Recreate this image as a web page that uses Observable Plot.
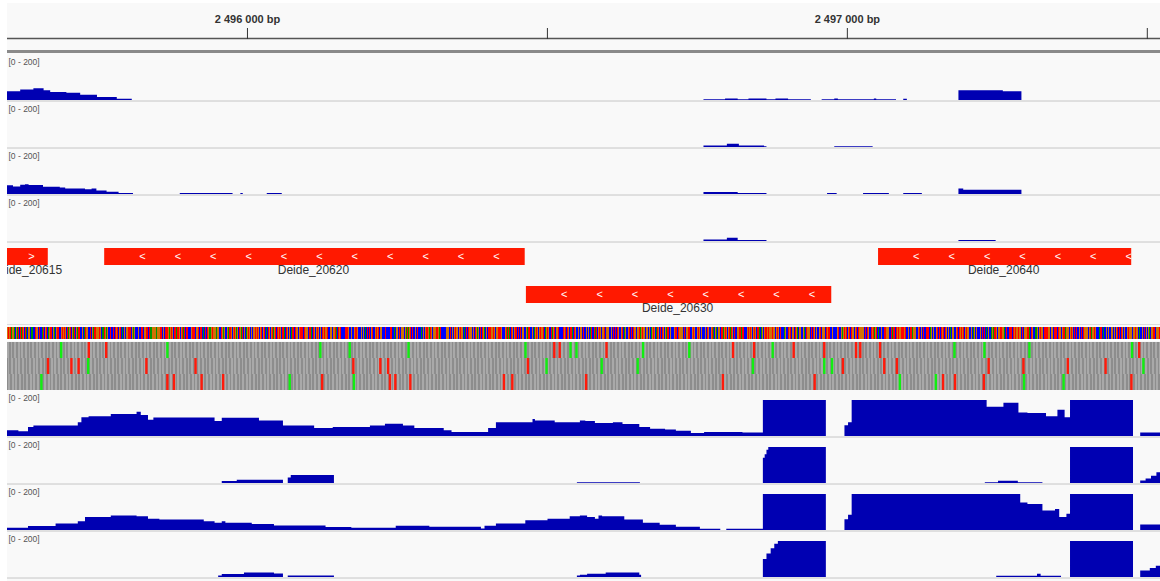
<!DOCTYPE html>
<html><head><meta charset="utf-8">
<script src="https://cdn.jsdelivr.net/npm/d3@7"></script>
<script src="https://cdn.jsdelivr.net/npm/@observablehq/plot@0.6"></script>
<style>
html,body{margin:0;padding:0;background:#fff;width:1160px;height:581px;overflow:hidden;}
#panel{position:absolute;left:7px;top:0;width:1153px;height:581px;background:#f9f9f9;}
.trk{position:absolute;left:0;width:1153px;}
.trk svg{display:block;}
.strip{position:absolute;left:0;width:1153px;}
</style></head><body><div id="panel"></div>
<script>
// ---------------- data ----------------
const X0 = 2495600, X1 = 2497522;          // visible locus (bp)
const rulerTicks = [2496000, 2496500, 2497000, 2497500];
const rulerLabels = [2496000, 2497000];
const dataRange = [0, 200];

// coverage tracks: [start bp, value] steps
const cov1 = [[2495600,49],[2495622,58],[2495644,65],[2495661,54],[2495672,45],[2495699,40],[2495722,29],[2495750,16],[2495783,7],[2495808,0],
 [2496761,4],[2496797,9],[2496818,4],[2496836,9],[2496866,4],[2496881,9],[2496902,4],[2496940,0],[2496958,4],[2496979,9],[2496985,4],[2497045,9],[2497049,4],[2497082,0],[2497094,7],[2497100,0],[2497186,54],[2497260,49],[2497291,0],[2497522,0]];
const cov2 = [[2495600,0],[2496761,9],[2496800,18],[2496820,9],[2496862,4],[2496866,0],[2496979,4],[2497043,0],[2497522,0]];
const cov3 = [[2495600,49],[2495610,41],[2495622,52],[2495630,54],[2495636,50],[2495660,40],[2495688,36],[2495697,31],[2495730,27],[2495741,31],[2495749,20],[2495766,13],[2495786,5],[2495810,0],[2495888,5],[2495976,0],[2495989,5],[2495993,0],[2496033,5],[2496058,0],
 [2496761,11],[2496818,5],[2496866,0],[2496967,5],[2496983,0],[2497027,5],[2497070,0],[2497094,5],[2497125,0],[2497186,31],[2497194,23],[2497291,0],[2497522,0]];
const cov4 = [[2495600,0],[2496761,9],[2496800,18],[2496818,5],[2496866,0],[2497186,5],[2497248,0],[2497522,0]];
const cov5 = [[2495600,32],[2495619,27],[2495635,50],[2495644,59],[2495718,77],[2495724,104],[2495736,110],[2495773,122],[2495816,135],[2495823,117],[2495835,90],[2495844,103],[2495946,83],[2495958,101],[2496020,86],[2496060,59],[2496112,45],[2496143,50],[2496205,59],[2496230,68],[2496260,59],[2496279,45],[2496328,32],[2496341,22],[2496402,45],[2496415,77],[2496476,95],[2496480,86],[2496513,77],[2496555,86],[2496564,83],[2496580,72],[2496610,77],[2496626,67],[2496654,50],[2496672,40],[2496697,36],[2496715,29],[2496740,16],[2496762,22],[2496826,20],[2496860,200],[2496965,0],[2496996,60],[2497002,77],[2497008,200],[2497233,162],[2497261,185],[2497286,131],[2497301,128],[2497332,110],[2497351,146],[2497363,104],[2497372,200],[2497477,0],[2497489,20],[2497522,20]];
const cov6 = [[2495600,0],[2495958,11],[2495983,18],[2496060,0],[2496068,30],[2496073,45],[2496145,0],[2496550,4],[2496655,0],[2496860,140],[2496863,160],[2496866,185],[2496869,200],[2496965,0],[2497230,4],[2497252,13],[2497285,4],[2497326,0],[2497372,200],[2497477,0],[2497489,14],[2497498,25],[2497507,40],[2497516,60],[2497522,70]];
const cov7 = [[2495600,13],[2495635,22],[2495681,36],[2495718,49],[2495730,72],[2495773,81],[2495816,76],[2495835,63],[2495854,59],[2495928,49],[2495946,40],[2495958,49],[2495964,40],[2496008,34],[2496045,25],[2496131,16],[2496174,13],[2496248,23],[2496304,18],[2496390,9],[2496396,23],[2496415,36],[2496464,54],[2496501,63],[2496538,76],[2496555,81],[2496567,72],[2496580,63],[2496586,81],[2496592,76],[2496629,58],[2496660,40],[2496688,29],[2496715,18],[2496755,7],[2496789,0],[2496799,7],[2496860,200],[2496965,0],[2496996,60],[2497002,85],[2497008,200],[2497289,153],[2497301,144],[2497326,108],[2497347,117],[2497354,72],[2497366,90],[2497372,200],[2497477,0],[2497489,31],[2497522,31]];
const cov8 = [[2495600,0],[2495952,8],[2495958,16],[2495995,25],[2496045,20],[2496060,0],[2496068,9],[2496145,0],[2496550,8],[2496555,13],[2496567,18],[2496598,25],[2496654,12],[2496657,0],[2496860,100],[2496866,130],[2496873,160],[2496879,185],[2496885,200],[2496965,0],[2497249,7],[2497317,18],[2497323,7],[2497357,0],[2497372,200],[2497477,0],[2497489,36],[2497505,50],[2497515,62],[2497522,67]];

// gene annotations
const geneNames   = ["Deide_20615","Deide_20620","Deide_20630","Deide_20640"];
const geneStarts  = [2495577, 2495762, 2496465, 2497052];
const geneEnds    = [2495668, 2496463, 2496974, 2497474];
const geneStrands = ["+","-","-","-"];
const geneRows    = [1, 1, 2, 1];

// reference sequence (estimated)
const sequence = [
"GCTCGTTACGGCATCGAAGTCCTGATCGGCTTAACGCGTCAGATCCGTTGGACTTCGCAATGCCGTTCGAGATCTCGGTACAGCTTGCACGATCGTAG",
"CCTGACGTTCGGATTGCGCAGTTCCTCGACGATGGTGCGCTTCAGCATGTCGGCGTTGACGAACTCGATGACCTTGCCCTGCTCGGTCAGTTCGATCG",
"TCAGGGTCTTGCCGATGTCCTCGGCGCGTTCCAGGTTCTCCTGAATGCGGCGCAGCGTGTCTTCGGCCTTGTCGAGGTTGGCCTTGAGTTCGCCGATC",
"ATGCCTTCCACCAGGTTCTGCGCGGTCTTGTCCACCTGCTTGGACAGTTCGGCGAAGCGGCCCTTGACGTCCTGGATCTCGCGGTTGAAGGCGTCGAA",
"TTCGGCGAGCTTGCGGTCGAGCTGGTCGCGGGTCTGCTCGAACTTGTCGTTGAGCTGCTGGATGTCCTTGACCTTGGCGTCGATTTCCTCGCGCAGCT",
"TGTTCTCGAGGTCCTTGATCTTGCCGTTGGCGGTCTCGATGCGCTCGCGGGCCAGGTTCACTTCGTTCTCCACCTTCTGGCGCAGCTCGGTGTCGCGC",
"TCGTCGGCAAACTGCTTCAGCTCGCGGTTGATCTGCGCGCTCTTCTCCACGTTGCTCATCAGGTCTTCGGCGGCCTGATTCAGCTTCTGCACGGCGTC",
"GCGCACCTGCTGGTTGGCATCGGCGAGGGTCTTGATTTCCTCGCCGGTGGTCTTCAGGCGTTCGGTCAGTTGGGCGATCTCCTTGCGGGCGGCCTCGA",
"AGCCGTCTTCGAGCTGCATCTTGGCGTCGACGAGCTTCTGGCGCTCGGTCATGAACTTGCCGGTGTCCTTCTGCAGGCCGCGGATTTCCTCGTCCAGC",
"TTGCGGGTGCGCTCGAAGTCGGCCTTGAGCTGCGCGATCTCGCCGTCGTGCTTGGCGTTCACCTCGGCCAGCCGGGCCTTCTCGGCGGCCAGTTCCTT",
"GATGCGGTTGTCGAGCTCGGCGGTCACGGCTTCGTTCTTGCCCAGGTCGATGCGCAGTTCGTCCTTGGCCTGGATCAGCTCGGTCAGGCCGGCCACGT",
"CGGCAATGGCCTGCTCGTCGAAGTTGCCGCGCTCGATGTCCTGGGTGAGCTTGCGGGCTTCCTCGATGGCGCGGTTGACGTCGCCGGTCTTGGCCAGG",
"TAGCCGAGCTGGTCCTTGAAGTCGGCGTTGATCGACTGCTCGCGCTTGAGTTCCGCCAGCTGGTCGCGGGTGGCCTTGAGCATGTCGGTCTGCTCGGC",
"GATGCGGCGCTCGCGTTCCTCCAGGCCCTTGATCTGGGCCTCGAACTGGTCGCGCACCTTGAGGGCTTCGTTGCGGGCCTGCTCGGCGGCCATGATTT",
"CGCGGCGCACCTGCTCGCGGATGGTGTTGCGCTCCTTGAGCAGGTCCTCGGCGCGGGCCTCGTAGCGCTTGGTGAGTTCCACCGCGTCGCTCTCGGCG",
"GCCATGATGTCCTTGCTGAGCTTGTCGTACTCGGCCTTCACGGCGTCCTGCTCGGCCTGCACTTTCTCGAGGCGGGCCAGGTCCTCCTGGGTCTTGGC",
"GGCCAGCTGGTCGCGCTCCTTGGTGATGCGGTCGGTCTCGTCGAGGCGGCGCTCGGCCTCGTTCAGCTGCGCCAGCAGTTCGTCGCGCTTGGCGAACA",
"TCGCGTTTTCCTCGGTGAGCTGGGCCTTCAGGCGGTTGATCTCGTCCGACAGGCCGTCGAGCTTCTTCTGGGCCAGGGCGTTGTCCTGGCGCAGCTTG",
"ATGGCGGCGTTGGCCTCCTGCACGGCCTCGTCGGCGCGCTGGTAGGCGTTGTCCACGATCTTCAGCGCGTCGGCGCGGGCCTGCAGCTCGTCCTTGAC",
"GCCGCGTTCGGCGTCGAGCTGGGTCAGCTCGGCGTCGGCCGCATCGAGCTTGCGGGCGTTCTCGTCCAGGCGCTGCACCGCGTCGCGCAGCGTGTTCA",
"GCTCGTCCTGCGCGCTGTTCAGGGCGGCCTCGGTCTTCTCCAGCGCCTGGCGGGTGTCGGCGATGGCCTTGGCGAGGTCTTCGTAGCGGGCCTCGATG"
].join("");
const bases = ["A","C","G","T"];

// three-frame translation: start codons (Met) and stop codons (bp)
const frame1Met  = [2495688,2495865,2496120,2496169,2496267,2496462,2496537,2496547,2496658,2496735,2496874,2497177,2497227,2497302,2497473];
const frame1Stop = [2495734,2495763,2496510,2496519,2496597,2496808,2496843,2496909,2496960,2497013,2497020,2497053,2497485];
const frame2Met  = [2495733,2496497,2496589,2496649,2496841,2496960,2496973,2497492];
const frame2Stop = [2495666,2495705,2495717,2495830,2495912,2496175,2496220,2496233,2496466,2496991,2497060,2497081,2497234,2497292,2497366,2497429];
const frame3Met  = [2495655,2496069,2496176,2497086,2497146,2497293,2497359];
const frame3Stop = [2495865,2495876,2495922,2495958,2496123,2496236,2496245,2496270,2496426,2496440,2496563,2496791,2496944,2497158,2497178,2497226,2497472];

// ---------------- drawing ----------------
const W = 1153;
const FONT = "'Liberation Sans', Arial, sans-serif";
const COV_COLOR = "#0000b2";
const GENE_COLOR = "#ff1900";
const panel = document.getElementById("panel");
const baseStyle = {background: "none", fontFamily: FONT, overflow: "visible"};
const xScale = {domain: [X0, X1], axis: null};

function place(svg, top) {
  const d = document.createElement("div");
  d.className = "trk"; d.style.top = top + "px";
  d.appendChild(svg); panel.appendChild(d);
}
function strip(top, h, color) {
  const d = document.createElement("div");
  d.className = "strip"; d.style.top = top + "px"; d.style.height = h + "px"; d.style.background = color;
  panel.appendChild(d);
}

// white border at very top
strip(0, 3, "#ffffff");

// ruler
const fmtBp = d => d3.format(",")(d).replace(/,/g, " ") + " bp";
place(Plot.plot({
  width: W, height: 50, marginTop: 38, marginBottom: 0, marginLeft: 0, marginRight: 0,
  x: xScale, y: {domain: [0, 1], axis: null},
  style: baseStyle,
  marks: [
    Plot.ruleY([1], {stroke: "#555", strokeWidth: 1.5}),
    Plot.axisX({anchor: "top", ticks: rulerTicks, tickSize: 11, tickFormat: () => "", stroke: "#333"}),
    Plot.axisX({anchor: "top", ticks: rulerLabels, tickSize: 0, tickPadding: 16, tickFormat: fmtBp,
                fontWeight: "bold", fontSize: 11, fill: "#333"})
  ]
}), 0);
strip(50, 3, "#8a8a8a");

// coverage track factory
function coverage(steps) {
  const rows = steps.map(([pos, v]) => ({pos, v}));
  return Plot.plot({
    width: W, height: 47, marginTop: 10, marginBottom: 1, marginLeft: 0, marginRight: 0,
    x: xScale, y: {domain: dataRange, axis: null},
    style: baseStyle,
    marks: [
      Plot.areaY(rows, {x: "pos", y: "v", curve: "step-after", fill: COV_COLOR, clip: true}),
      Plot.ruleY([0], {stroke: "#c6c6c6", dy: 0.5}),
      Plot.text([`[${dataRange[0]} - ${dataRange[1]}]`], {frameAnchor: "top-left", dx: 1, dy: -2,
        lineAnchor: "middle", textAnchor: "start", fontSize: 8.5, fill: "#555"})
    ]
  });
}
[cov1, cov2, cov3, cov4].forEach((c, i) => place(coverage(c), 54 + 47 * i));

// gene track
const genes = geneNames.map((name, i) => ({name, start: geneStarts[i], end: geneEnds[i], strand: geneStrands[i], row: geneRows[i]}));
const CHEV_FIRST = 63, CHEV_STEP = 59;   // bp
const chevrons = genes.flatMap(g => {
  const out = [];
  for (let p = g.start + CHEV_FIRST; p <= g.end - 4; p += CHEV_STEP) out.push({pos: p, row: g.row, strand: g.strand});
  return out;
});
place(Plot.plot({
  width: W, height: 82, margin: 0,
  x: xScale, y: {type: "point", domain: [1, 2], range: [13.5, 51.5], padding: 0, axis: null},
  style: baseStyle,
  marks: [
    Plot.ruleY(genes, {x1: "start", x2: "end", y: "row", stroke: GENE_COLOR, strokeWidth: 17, clip: true}),
    Plot.text(chevrons, {x: "pos", y: "row", text: d => d.strand === "+" ? ">" : "<", fill: "#fff",
      fontSize: 11, clip: true}),
    Plot.text(genes, {x: d => (Math.max(d.start, X0) + Math.min(d.end, X1)) / 2, y: "row", text: "name",
      dy: 13.5, dx: -1.5, fontSize: 12, fill: "#333", clip: true}),
  ]
}), 242);

// sequence track (bases)
strip(324, 1, "#dcdcdc");
const seqData = Array.from(sequence, (b, i) => ({pos: X0 + i, base: b})).filter(d => d.pos < X1);
place(Plot.plot({
  width: W, height: 15, marginTop: 3, marginBottom: 0, marginLeft: 0, marginRight: 0,
  x: xScale, color: {domain: bases, range: ["#009600", "#0000ff", "#d17105", "#ff0000"]},
  style: baseStyle,
  marks: [
    Plot.rect(seqData, {x1: "pos", x2: d => d.pos + 1, fill: "base", shapeRendering: "crispEdges"})
  ]
}), 324);
strip(339, 2, "#ffffff");

// three-frame translation
const codons = [1, 2, 3].flatMap(f => {
  const out = [];
  let k = 0;
  for (let p = X0 + (f - 1) - 3; p < X1; p += 3, k++) out.push({frame: f, pos: p, shade: k % 2 ? "light" : "dark"});
  return out;
});
const marksTbl = [
  ...frame1Met.map(pos => ({frame: 1, pos, kind: "Met"})), ...frame1Stop.map(pos => ({frame: 1, pos, kind: "Stop"})),
  ...frame2Met.map(pos => ({frame: 2, pos, kind: "Met"})), ...frame2Stop.map(pos => ({frame: 2, pos, kind: "Stop"})),
  ...frame3Met.map(pos => ({frame: 3, pos, kind: "Met"})), ...frame3Stop.map(pos => ({frame: 3, pos, kind: "Stop"}))
];
place(Plot.plot({
  width: W, height: 49, margin: 0,
  x: xScale, y: {type: "band", domain: [1, 2, 3], padding: 0, axis: null},
  color: {domain: ["dark", "light", "Met", "Stop"], range: ["#8d8d8d", "#a9a9a9", "#11ee11", "#ff1a0a"]},
  style: baseStyle,
  marks: [
    Plot.rect(codons, {x1: "pos", x2: d => d.pos + 3, y: "frame", fill: "shade", shapeRendering: "crispEdges", clip: true}),
    Plot.tickX(marksTbl, {x: d => d.pos + 1.5, y: "frame", stroke: "kind", strokeWidth: 2.4})
  ]
}), 341);

[cov5, cov6, cov7, cov8].forEach((c, i) => place(coverage(c), 390 + 47 * i));
</script>
</body></html>
